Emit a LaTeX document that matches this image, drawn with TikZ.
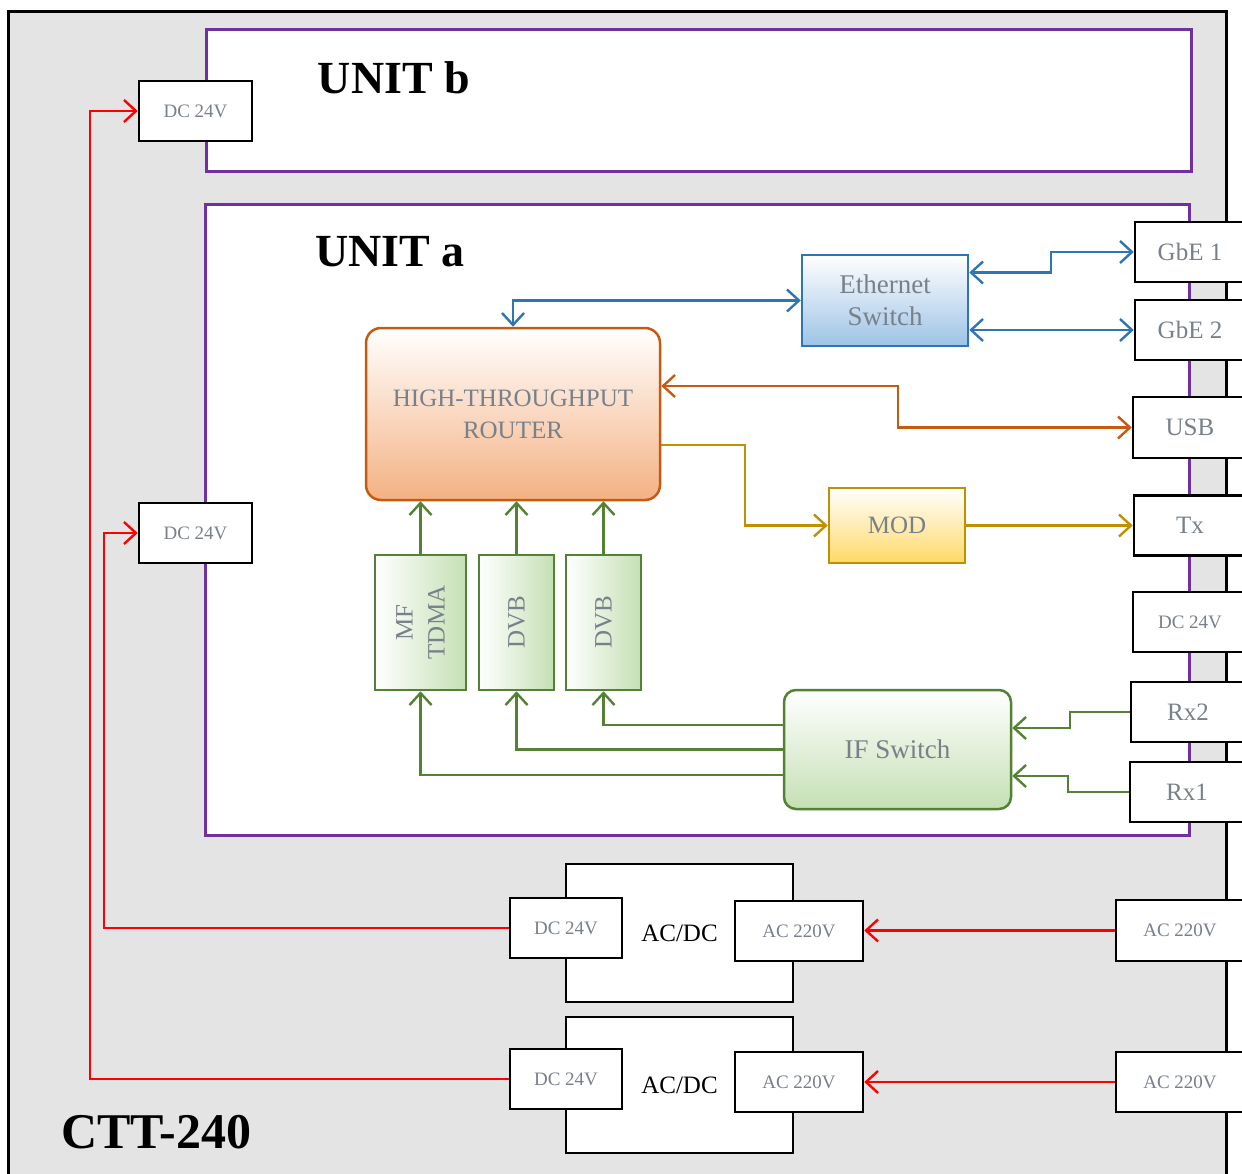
\documentclass[tikz,border=0pt]{standalone}
\usepackage{fontspec}
\setmainfont{Liberation Serif}
\usepackage{tikz}
\usetikzlibrary{arrows.meta}
\definecolor{casing}{HTML}{E4E4E4}
\definecolor{unit}{HTML}{7030A0}
\definecolor{label}{HTML}{78808A}
\definecolor{orng}{HTML}{C55A11}
\definecolor{orngL}{HTML}{F4B183}
\definecolor{blu}{HTML}{2E75B6}
\definecolor{bluL}{HTML}{9DC3E6}
\definecolor{gld}{HTML}{BF9000}
\definecolor{gldL}{HTML}{FFD966}
\definecolor{grn}{HTML}{548235}
\definecolor{grnL}{HTML}{C5E0B4}
\definecolor{pwr}{HTML}{FF0000}
\tikzset{
  >={Straight Barb[length=12pt,width=22pt]},
  port/.style={draw=black, line width=2.5pt, fill=white, inner sep=0pt, text=label, font=\fontsize{19}{22}\selectfont},
  bigport/.style={port, font=\fontsize{25}{30}\selectfont},
  unitbox/.style={draw=unit, line width=3pt, fill=white},
  title/.style={font=\fontsize{46}{50}\selectfont\bfseries},
  blk/.style={line width=2.5pt, inner sep=0pt, align=center, text=label, font=\fontsize{25}{32}\selectfont},
  conv/.style={draw=black, line width=2.5pt, fill=white, inner sep=0pt, font=\fontsize{25}{30}\selectfont},
  wire/.style={line width=2.4pt},
}
\begin{document}
\begin{tikzpicture}[x=1pt, y=-1pt]
  \useasboundingbox (0,0) rectangle (1242,1174);
  \draw[fill=casing, line width=3pt] (8,12) rectangle (1226,1200);
  \node[title, anchor=west, font=\fontsize{50}{54}\selectfont\bfseries] (ctt) at (58,1132) {CTT-240};

  % units
  \draw[unitbox] (206,30) rectangle (1191,172);
  \node[title] (unitb) at (394,78) {UNIT b};
  \draw[unitbox] (205,205) rectangle (1189,835);
  \node[title] (unita) at (390,252) {UNIT a};
  \node[port, minimum width=113, minimum height=60] (dcb) at (195.5,111) {DC 24V};
  \node[port, minimum width=113, minimum height=60] (dca) at (195.5,533) {DC 24V};

  % blocks of unit a
  \node[blk, draw=orng, rounded corners=15pt, top color=white, bottom color=orngL,
    minimum width=294, minimum height=172] (router) at (513,414) {HIGH-THROUGHPUT\\ROUTER};
  \node[blk, draw=blu, top color=white, bottom color=bluL, font=\fontsize{27}{32}\selectfont,
    minimum width=166, minimum height=91] (eth) at (885,300.5) {Ethernet\\Switch};
  \node[blk, draw=gld, top color=white, bottom color=gldL,
    minimum width=136, minimum height=75] (mod) at (897,525.5) {MOD};
  \node[blk, draw=grn, left color=white, right color=grnL,
    minimum width=91, minimum height=135] (tdma) at (420.5,622.5) {};
  \node[blk, rotate=90] (tdmatxt) at (tdma) {MF\\TDMA};
  \node[blk, draw=grn, left color=white, right color=grnL,
    minimum width=75, minimum height=135] (dvba) at (516.5,622.5) {};
  \node[blk, rotate=90] (dvbatxt) at (dvba) {DVB};
  \node[blk, draw=grn, left color=white, right color=grnL,
    minimum width=75, minimum height=135] (dvbb) at (603.5,622.5) {};
  \node[blk, rotate=90] (dvbbtxt) at (dvbb) {DVB};
  \node[blk, draw=grn, rounded corners=12pt, top color=white, bottom color=grnL, font=\fontsize{27}{32}\selectfont,
    minimum width=227, minimum height=119] (ifsw) at (897.5,749.5) {IF Switch};

  % ports on the right
  \node[bigport, minimum width=110, minimum height=60] (gbe1) at (1190,252) {GbE 1};
  \node[bigport, minimum width=110, minimum height=60] (gbe2) at (1190,330) {GbE 2};
  \node[bigport, minimum width=114, minimum height=61] (usb) at (1190,427.5) {USB};
  \node[bigport, minimum width=112, minimum height=60] (tx) at (1190,525.5) {Tx};
  \node[port, minimum width=114, minimum height=60] (dcr) at (1190,622) {DC 24V};
  \node[bigport, minimum width=114, minimum height=60] (rx2) at (1188,712) {Rx2};
  \node[bigport, minimum width=114, minimum height=60] (rx1) at (1187,792) {Rx1};

  % power supplies
  \node[conv, minimum width=227, minimum height=138] (acdca) at (679.5,933) {AC/DC};
  \node[conv, minimum width=227, minimum height=136] (acdcb) at (679.5,1085) {AC/DC};
  \node[port, minimum width=112, minimum height=60] (dcouta) at (566,928) {DC 24V};
  \node[port, minimum width=128, minimum height=60] (acina) at (799,931) {AC 220V};
  \node[port, minimum width=112, minimum height=60] (dcoutb) at (566,1079) {DC 24V};
  \node[port, minimum width=128, minimum height=60] (acinb) at (799,1082) {AC 220V};
  \node[port, minimum width=128, minimum height=61] (mainsa) at (1180,930.5) {AC 220V};
  \node[port, minimum width=128, minimum height=60] (mainsb) at (1180,1082) {AC 220V};

  % connections
  \draw[wire, blu, <->] (router.north) |- (eth.west);
  \draw[wire, blu, <->] ([yshift=28]eth.east) -- ++(82,0) |- (gbe1.west);
  \draw[wire, blu, <->] (gbe2.west -| eth.east) -- (gbe2.west);
  \draw[wire, orng, <->] ([yshift=28]router.east) -- ++(237,0) |- (usb.west);
  \draw[wire, gld, ->] ([yshift=-31]router.east) -- ++(84,0) |- (mod.west);
  \draw[wire, gld, ->] (mod.east) -- (mod.east -| tx.west);
  \draw[wire, grn, ->] (tdma.north) -- (tdma.north |- router.south);
  \draw[wire, grn, ->] (dvba.north) -- (dvba.north |- router.south);
  \draw[wire, grn, ->] (dvbb.north) -- (dvbb.north |- router.south);
  \draw[wire, grn, ->] ([yshift=24.5]ifsw.west) -| (dvbb.south);
  \draw[wire, grn, ->] (ifsw.west) -| (dvba.south);
  \draw[wire, grn, ->] ([yshift=-25.5]ifsw.west) -| (tdma.south);
  \draw[wire, grn, ->] (rx2.west) -- ++(-60,0) |- ([yshift=21.5]ifsw.east);
  \draw[wire, grn, ->] (rx1.west) -- ++(-61,0) |- ([yshift=-26.5]ifsw.east);
  \draw[wire, pwr, ->] (dcouta.west) -- ++(-405,0) |- (dca.west);
  \draw[wire, pwr, ->] (dcoutb.west) -- ++(-419,0) |- (dcb.west);
  \draw[wire, pwr, ->] (mainsa.west) -- (mainsa.west -| acina.east);
  \draw[wire, pwr, ->] (mainsb.west) -- (acinb.east);
\end{tikzpicture}
\end{document}
